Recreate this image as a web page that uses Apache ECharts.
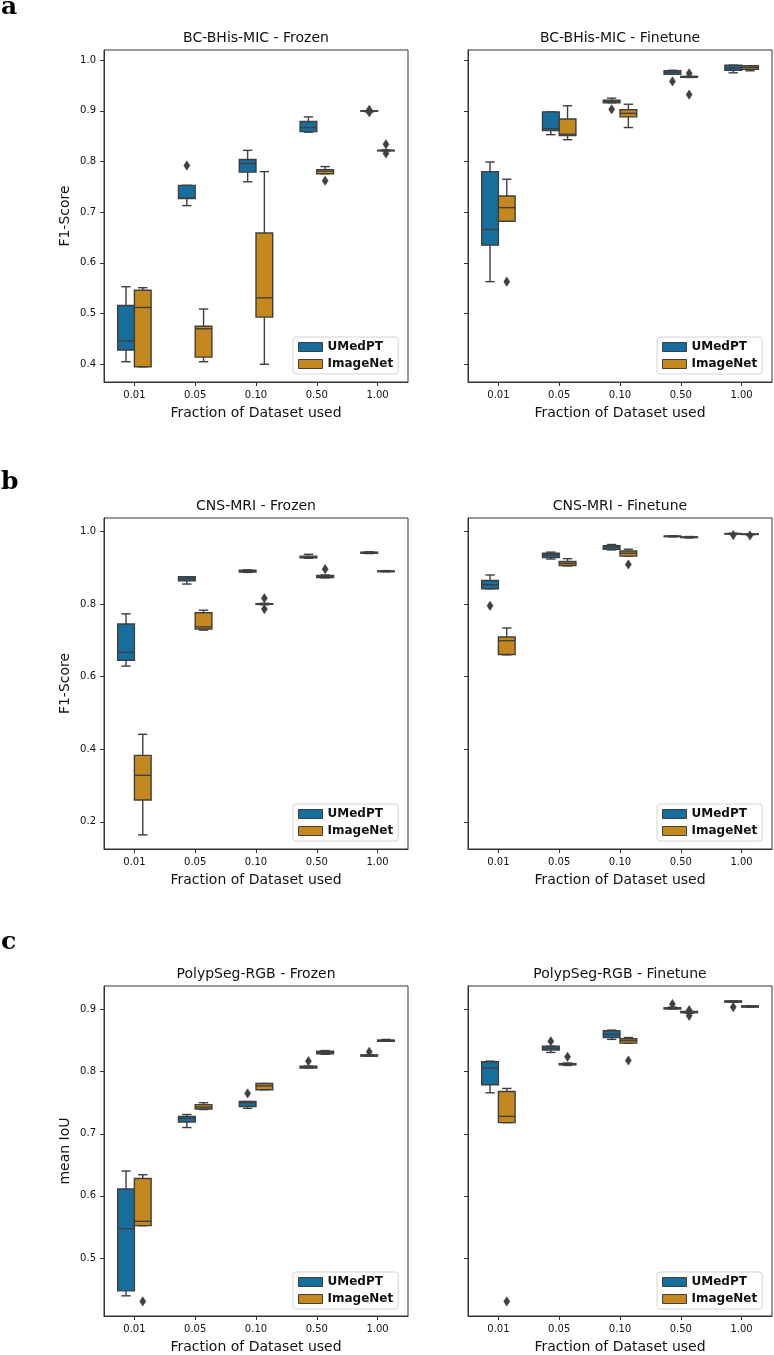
<!DOCTYPE html>
<html>
<head>
<meta charset="utf-8">
<script src="https://cdn.jsdelivr.net/npm/echarts@6/dist/echarts.min.js"></script>
<style>
  html, body { margin: 0; padding: 0; background: #fff; }
  #chart { width: 774px; height: 1355px; }
</style>
</head>
<body>
<div id="chart"></div>
<script>
// categories
const fractions = ['0.01', '0.05', '0.10', '0.50', '1.00'];

// box stats per fraction: [min, q1, median, q3, max]
// outliers: [fractionIndex, value]

// a) BC-BHis-MIC
const bcFrozenUMedPT = [
  [0.405, 0.428, 0.446, 0.516, 0.553],
  [0.713, 0.727, 0.728, 0.753, 0.753],
  [0.760, 0.779, 0.796, 0.804, 0.822],
  [0.858, 0.859, 0.867, 0.879, 0.888],
  [0.898, 0.899, 0.899, 0.900, 0.900]
];
const bcFrozenUMedPTOut = [[1, 0.792], [4, 0.902], [4, 0.897]];
const bcFrozenImageNet = [
  [0.395, 0.395, 0.512, 0.546, 0.551],
  [0.405, 0.414, 0.470, 0.475, 0.509],
  [0.400, 0.493, 0.531, 0.659, 0.780],
  [0.776, 0.776, 0.781, 0.784, 0.790],
  [0.821, 0.821, 0.822, 0.822, 0.823]
];
const bcFrozenImageNetOut = [[3, 0.762], [4, 0.834], [4, 0.816]];

const bcFineUMedPT = [
  [0.563, 0.635, 0.666, 0.780, 0.799],
  [0.853, 0.861, 0.865, 0.898, 0.898],
  [0.916, 0.916, 0.919, 0.921, 0.925],
  [0.972, 0.972, 0.976, 0.979, 0.980],
  [0.975, 0.980, 0.985, 0.990, 0.990]
];
const bcFineUMedPTOut = [[2, 0.903], [3, 0.958]];
const bcFineImageNet = [
  [0.682, 0.682, 0.709, 0.732, 0.765],
  [0.843, 0.851, 0.854, 0.884, 0.910],
  [0.867, 0.888, 0.895, 0.902, 0.913],
  [0.966, 0.966, 0.967, 0.968, 0.968],
  [0.979, 0.982, 0.986, 0.989, 0.989]
];
const bcFineImageNetOut = [[0, 0.563], [3, 0.974], [3, 0.932]];

// b) CNS-MRI
const cnsFrozenUMedPT = [
  [0.629, 0.645, 0.667, 0.745, 0.773],
  [0.855, 0.864, 0.870, 0.875, 0.875],
  [0.887, 0.888, 0.890, 0.893, 0.894],
  [0.926, 0.927, 0.929, 0.932, 0.937],
  [0.939, 0.940, 0.941, 0.943, 0.944]
];
const cnsFrozenUMedPTOut = [];
const cnsFrozenImageNet = [
  [0.164, 0.260, 0.328, 0.383, 0.441],
  [0.728, 0.731, 0.737, 0.776, 0.783],
  [0.798, 0.799, 0.800, 0.801, 0.802],
  [0.872, 0.873, 0.876, 0.879, 0.880],
  [0.889, 0.889, 0.890, 0.891, 0.892]
];
const cnsFrozenImageNetOut = [[2, 0.816], [2, 0.786], [3, 0.896]];

const cnsFineUMedPT = [
  [0.842, 0.842, 0.853, 0.865, 0.880],
  [0.924, 0.928, 0.935, 0.940, 0.943],
  [0.949, 0.951, 0.957, 0.961, 0.964],
  [0.985, 0.986, 0.987, 0.987, 0.988],
  [0.993, 0.993, 0.994, 0.994, 0.995]
];
const cnsFineUMedPTOut = [[0, 0.795], [4, 0.990]];
const cnsFineImageNet = [
  [0.660, 0.661, 0.699, 0.709, 0.734],
  [0.905, 0.906, 0.912, 0.917, 0.925],
  [0.932, 0.932, 0.940, 0.946, 0.951],
  [0.982, 0.983, 0.984, 0.985, 0.986],
  [0.991, 0.992, 0.992, 0.993, 0.993]
];
const cnsFineImageNetOut = [[2, 0.909], [4, 0.989]];

// c) PolypSeg-RGB
const polypFrozenUMedPT = [
  [0.439, 0.447, 0.547, 0.611, 0.640],
  [0.710, 0.719, 0.725, 0.728, 0.731],
  [0.741, 0.744, 0.750, 0.752, 0.752],
  [0.806, 0.806, 0.808, 0.809, 0.809],
  [0.825, 0.825, 0.826, 0.827, 0.827]
];
const polypFrozenUMedPTOut = [[2, 0.765], [3, 0.817], [4, 0.832]];
const polypFrozenImageNet = [
  [0.552, 0.552, 0.559, 0.628, 0.634],
  [0.739, 0.740, 0.743, 0.747, 0.750],
  [0.771, 0.771, 0.777, 0.781, 0.781],
  [0.828, 0.829, 0.831, 0.833, 0.834],
  [0.849, 0.849, 0.850, 0.851, 0.852]
];
const polypFrozenImageNetOut = [[0, 0.430]];

const polypFineUMedPT = [
  [0.766, 0.779, 0.806, 0.816, 0.817],
  [0.831, 0.835, 0.838, 0.841, 0.841],
  [0.852, 0.855, 0.860, 0.866, 0.867],
  [0.901, 0.901, 0.902, 0.903, 0.904],
  [0.912, 0.912, 0.913, 0.914, 0.914]
];
const polypFineUMedPTOut = [[1, 0.849], [3, 0.909], [4, 0.904]];
const polypFineImageNet = [
  [0.718, 0.718, 0.728, 0.768, 0.773],
  [0.810, 0.811, 0.812, 0.813, 0.814],
  [0.846, 0.846, 0.850, 0.853, 0.855],
  [0.894, 0.895, 0.896, 0.897, 0.897],
  [0.904, 0.904, 0.905, 0.906, 0.906]
];
const polypFineImageNetOut = [[0, 0.430], [1, 0.824], [2, 0.818], [3, 0.899], [3, 0.890]];

// y tick labels per row
const ticksA = [0.4, 0.5, 0.6, 0.7, 0.8, 0.9, 1.0];
const ticksB = [0.2, 0.4, 0.6, 0.8, 1.0];
const ticksC = [0.5, 0.6, 0.7, 0.8, 0.9];

const panels = [
  { title: 'BC-BHis-MIC - Frozen', yName: 'F1-Score', u: bcFrozenUMedPT, uo: bcFrozenUMedPTOut, i: bcFrozenImageNet, io: bcFrozenImageNetOut },
  { title: 'BC-BHis-MIC - Finetune', yName: '', u: bcFineUMedPT, uo: bcFineUMedPTOut, i: bcFineImageNet, io: bcFineImageNetOut },
  { title: 'CNS-MRI - Frozen', yName: 'F1-Score', u: cnsFrozenUMedPT, uo: cnsFrozenUMedPTOut, i: cnsFrozenImageNet, io: cnsFrozenImageNetOut },
  { title: 'CNS-MRI - Finetune', yName: '', u: cnsFineUMedPT, uo: cnsFineUMedPTOut, i: cnsFineImageNet, io: cnsFineImageNetOut },
  { title: 'PolypSeg-RGB - Frozen', yName: 'mean IoU', u: polypFrozenUMedPT, uo: polypFrozenUMedPTOut, i: polypFrozenImageNet, io: polypFrozenImageNetOut },
  { title: 'PolypSeg-RGB - Finetune', yName: '', u: polypFineUMedPT, uo: polypFineUMedPTOut, i: polypFineImageNet, io: polypFineImageNetOut }
];

// layout
const rows = [
  { top: 50, height: 332, min: 0.365, max: 1.02, ticks: ticksA, letter: 'a', letterY: 6.5 },
  { top: 518, height: 331, min: 0.125, max: 1.037, ticks: ticksB, letter: 'b', letterY: 481.5 },
  { top: 986, height: 331, min: 0.4065, max: 0.938, ticks: ticksC, letter: 'c', letterY: 941.5 }
];
const colLeft = [104, 468];
const panelW = 304;

const BLUE = '#176d9c';
const ORANGE = '#c38820';
const EDGE = '#3f3f3f';
const FONT = 'DejaVu Sans';

const chart = echarts.init(document.getElementById('chart'));

const boxRender = (side) => (params, api) => {
  const c = api.value(0);
  const band = api.size([1, 0])[0];
  const cx = api.coord([c, 0])[0] + side * band * 0.1375;
  const w = band * 0.275;
  const y = [1, 2, 3, 4, 5].map((k) => api.coord([c, api.value(k)])[1]);
  const cap = w * 0.28;
  const ls = { stroke: EDGE, lineWidth: 1.4 };
  return {
    type: 'group',
    children: [
      { type: 'line', shape: { x1: cx, y1: y[3], x2: cx, y2: y[4] }, style: ls },
      { type: 'line', shape: { x1: cx, y1: y[1], x2: cx, y2: y[0] }, style: ls },
      { type: 'line', shape: { x1: cx - cap, y1: y[4], x2: cx + cap, y2: y[4] }, style: ls },
      { type: 'line', shape: { x1: cx - cap, y1: y[0], x2: cx + cap, y2: y[0] }, style: ls },
      {
        type: 'rect',
        shape: { x: cx - w / 2, y: y[3], width: w, height: Math.max(y[1] - y[3], 0.5) },
        style: { fill: api.visual('color'), stroke: EDGE, lineWidth: 1.4 }
      },
      { type: 'line', shape: { x1: cx - w / 2, y1: y[2], x2: cx + w / 2, y2: y[2] }, style: ls }
    ]
  };
};

const outRender = (side) => (params, api) => {
  const c = api.value(0);
  const band = api.size([1, 0])[0];
  const cx = api.coord([c, 0])[0] + side * band * 0.1375;
  const cy = api.coord([c, api.value(1)])[1];
  return {
    type: 'polygon',
    shape: { points: [[cx, cy - 4.6], [cx + 3, cy], [cx, cy + 4.6], [cx - 3, cy]] },
    style: { fill: EDGE, stroke: EDGE, lineWidth: 0.6 }
  };
};

const grid = [], xAxis = [], yAxis = [], series = [], legend = [], title = [];

panels.forEach((p, idx) => {
  const r = rows[Math.floor(idx / 2)];
  const col = idx % 2;
  const left = colLeft[col];
  grid.push({ left: left, top: r.top, width: panelW, height: r.height, show: true, borderColor: '#333', borderWidth: 1, backgroundColor: '#fff' });
  xAxis.push({
    type: 'category', gridIndex: idx, data: fractions, boundaryGap: true,
    name: 'Fraction of Dataset used', nameLocation: 'middle', nameGap: 24,
    nameTextStyle: { fontFamily: FONT, fontSize: 14, color: '#111' },
    axisLine: { show: true, lineStyle: { color: '#333', width: 1 } },
    axisTick: { show: true, alignWithLabel: true, length: 4, lineStyle: { color: '#333' } },
    axisLabel: { fontFamily: FONT, fontSize: 10, color: '#111', margin: 8 },
    splitLine: { show: false }
  });
  yAxis.push({
    type: 'value', gridIndex: idx, min: r.min, max: r.max,
    name: p.yName, nameLocation: 'middle', nameGap: 32,
    nameTextStyle: { fontFamily: FONT, fontSize: 14, color: '#111' },
    axisLine: { show: true, lineStyle: { color: '#333', width: 1 } },
    axisTick: { show: true, length: 4, customValues: r.ticks, lineStyle: { color: '#333' } },
    axisLabel: {
      show: col === 0, customValues: r.ticks, fontFamily: FONT, fontSize: 10, color: '#111', margin: 8,
      formatter: (v) => Number(v).toFixed(1)
    },
    splitLine: { show: false }
  });
  title.push({
    text: p.title, left: left + panelW / 2, top: r.top - 19, textAlign: 'center', padding: 0,
    textStyle: { fontFamily: FONT, fontSize: 14, fontWeight: 'normal', color: '#111' }
  });
  legend.push({
    orient: 'vertical', left: left + panelW - 115, top: r.top + r.height - 45,
    icon: 'rect', itemWidth: 24, itemHeight: 9, itemGap: 5, itemTextGap: 10,
    padding: [4, 5, 4, 5], borderColor: '#d4d4d4', borderWidth: 1, borderRadius: 3,
    backgroundColor: '#fff', selectedMode: false,
    textStyle: { fontFamily: FONT, fontSize: 12, fontWeight: 'bold', color: '#111' },
    data: [
      { name: 'UMedPT', itemStyle: { color: BLUE, borderColor: EDGE, borderWidth: 1 } },
      { name: 'ImageNet', itemStyle: { color: ORANGE, borderColor: EDGE, borderWidth: 1 } }
    ]
  });
  const hues = [
    { name: 'UMedPT', color: BLUE, box: p.u, out: p.uo, side: -1 },
    { name: 'ImageNet', color: ORANGE, box: p.i, out: p.io, side: 1 }
  ];
  hues.forEach((h) => {
    series.push({
      type: 'custom', name: h.name, xAxisIndex: idx, yAxisIndex: idx,
      itemStyle: { color: h.color },
      renderItem: boxRender(h.side),
      encode: { x: 0, y: [1, 2, 3, 4, 5] },
      data: h.box.map((s, k) => [k].concat(s)),
      z: 2
    });
    series.push({
      type: 'custom', name: h.name + ' outliers', xAxisIndex: idx, yAxisIndex: idx,
      itemStyle: { color: EDGE },
      renderItem: outRender(h.side),
      encode: { x: 0, y: 1 },
      data: h.out,
      z: 3
    });
  });
});

const graphic = rows.map((r) => ({
  type: 'text', left: 1, top: r.letterY - 12,
  style: { text: r.letter, font: 'bold 25px "DejaVu Serif"', fill: '#000' }
}));

chart.setOption({
  animation: false,
  backgroundColor: '#fff',
  title: title,
  legend: legend,
  grid: grid,
  xAxis: xAxis,
  yAxis: yAxis,
  series: series,
  graphic: graphic
});
</script>
</body>
</html>
